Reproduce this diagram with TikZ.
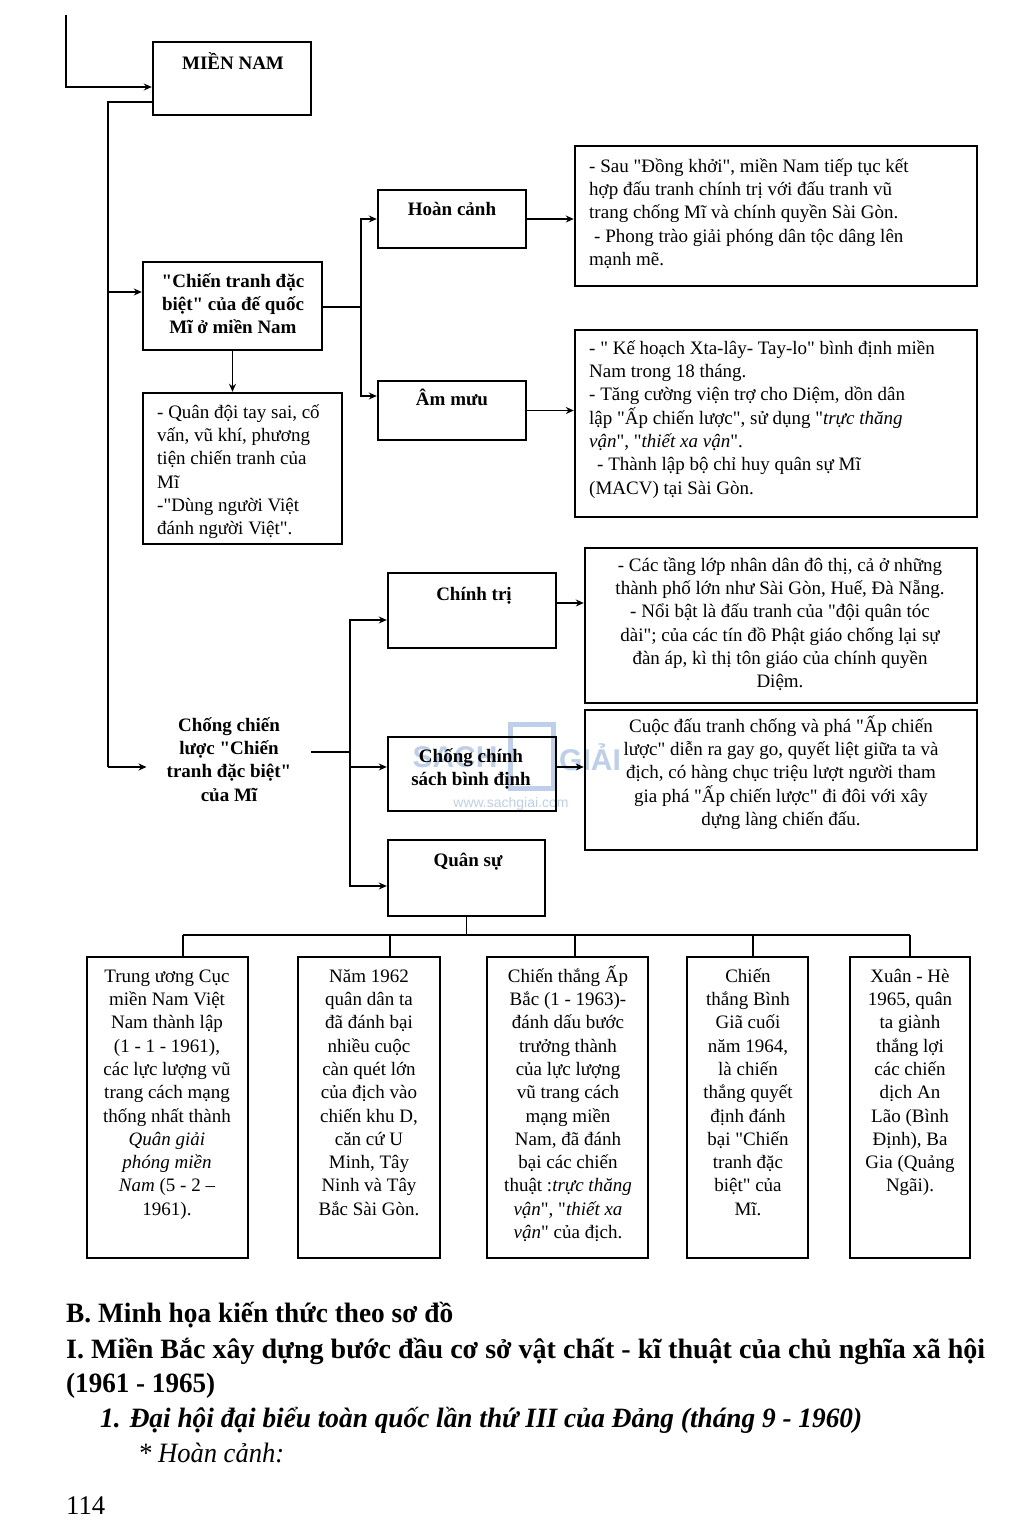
\documentclass[tikz,border=0pt]{standalone}
\usepackage{fontspec}
\usepackage{graphicx}
\setmainfont{Liberation Serif}
\newfontfamily\vf{Liberation Serif}
\newfontfamily\wmfont{Liberation Sans}
\usetikzlibrary{arrows.meta,fit,calc}
\definecolor{wmblue}{RGB}{110,150,210}
\newcommand\bodyf{\vf\fontsize{19}{23.3}\selectfont}
\newcommand\tp{\rule{0pt}{20pt}}
\newcommand\hfit[2]{\resizebox{#1}{\height}{#2}}
\begin{document}
\begin{tikzpicture}[x=1pt,y=-1pt,
 box/.style={draw, line width=2.4pt, inner sep=0pt},
 conn/.style={line width=1.4pt},
 arr/.style={conn, -{Stealth[length=8pt,width=7pt]}},
 txt/.style={inner sep=0pt, font=\bodyf, align=left, anchor=north west},
 ctxt/.style={inner sep=0pt, font=\bodyf, align=center, anchor=north},
 btxt/.style={inner sep=0pt, font=\bodyf\bfseries, align=center, anchor=north},
 foot/.style={inner sep=0pt, anchor=base west},
]
\useasboundingbox (0,0) rectangle (1024,1537);
\fill[white] (0,0) rectangle (1024,1537);

% ---------- watermark (behind) ----------
\begin{scope}[opacity=0.45]
\node[inner sep=0, text=wmblue, font=\wmfont\bfseries\fontsize{30}{30}\selectfont] (wm1) at (455,757) {SACH};
\draw[wmblue, line width=5pt] (510,724) rectangle (553,788);
\node[inner sep=0, text=wmblue, font=\wmfont\bfseries\fontsize{30}{30}\selectfont] (wm2) at (590,757) {GIẢI};
\node[inner sep=0, text=wmblue, font=\wmfont\fontsize{14}{14}\selectfont] (wm3) at (511,804) {www.sachgiai.com};
\end{scope}

% ---------- boxes ----------
\node[box, fit={(153,42) (311,115)}] (mn) {};
\node[box, fit={(143,262) (322,350)}] (ctdb) {};
\node[box, fit={(143,393) (342,544)}] (qd) {};
\node[box, fit={(378,190) (526,248)}] (hc) {};
\node[box, fit={(378,381) (526,440)}] (am) {};
\node[box, fit={(575,146) (977,286)}] (b1) {};
\node[box, fit={(575,330) (977,517)}] (b2) {};
\node[box, fit={(388,573) (556,648)}] (ct) {};
\node[box, fit={(388,737) (556,811)}] (ccs) {};
\node[box, fit={(388,840) (545,916)}] (qs) {};
\node[box, fit={(585,548) (977,703)}] (b3) {};
\node[box, fit={(585,710) (977,850)}] (b4) {};
\node[box, fit={(87,957) (248,1258)}] (bA) {};
\node[box, fit={(298,957) (440,1258)}] (bB) {};
\node[box, fit={(487,957) (648,1258)}] (bC) {};
\node[box, fit={(687,957) (808,1258)}] (bD) {};
\node[box, fit={(850,957) (970,1258)}] (bE) {};

% ---------- texts ----------
\node[btxt] (mnt) at (233,49) {\tp MIỀN NAM};
\node[btxt] (ctdbt) at (233,267) {\tp"Chiến tranh đặc\\biệt" của đế quốc\\Mĩ ở miền Nam};
\node[txt] (qdt) at (157,398) {\tp- Quân đội tay sai, cố\\vấn, vũ khí, phương\\tiện chiến tranh của\\Mĩ\\-"Dùng người Việt\\đánh người Việt".};
\node[btxt] (hct) at (452,195) {\tp Hoàn cảnh};
\node[btxt] (amt) at (452,385) {\tp Âm mưu};
\node[txt] (b1t) at (589,152) {\tp- Sau "Đồng khởi", miền Nam tiếp tục kết\\hợp đấu tranh chính trị với đấu tranh vũ\\trang chống Mĩ và chính quyền Sài Gòn.\\\hspace*{5pt}- Phong trào giải phóng dân tộc dâng lên\\mạnh mẽ.};
\node[txt] (b2t) at (589,334) {\tp- " Kế hoạch Xta-lây- Tay-lo" bình định miền\\Nam trong 18 tháng.\\- Tăng cường viện trợ cho Diệm, dồn dân\\lập "Ấp chiến lược", sử dụng "\textit{trực thăng}\\\textit{vận}", "\textit{thiết xa vận}".\\\hspace*{8pt}- Thành lập bộ chỉ huy quân sự Mĩ\\(MACV) tại Sài Gòn.};
\node[btxt, inner xsep=20pt] (ccl) at (229,711) {\tp Chống chiến\\lược "Chiến\\tranh đặc biệt"\\của Mĩ};
\node[btxt] (ctt) at (474,580) {\tp Chính trị};
\node[btxt] (ccst) at (471,742) {\tp Chống chính\\sách bình định};
\node[btxt] (qst) at (468,846) {\tp Quân sự};
\node[ctxt] (b3t) at (780,551) {\tp- Các tầng lớp nhân dân đô thị, cả ở những\\thành phố lớn như Sài Gòn, Huế, Đà Nẵng.\\- Nổi bật là đấu tranh của "đội quân tóc\\dài"; của các tín đồ Phật giáo chống lại sự\\đàn áp, kì thị tôn giáo của chính quyền\\Diệm.};
\node[ctxt] (b4t) at (781,712) {\tp Cuộc đấu tranh chống và phá "Ấp chiến\\lược" diễn ra gay go, quyết liệt giữa ta và\\địch, có hàng chục triệu lượt người tham\\gia phá "Ấp chiến lược" đi đôi với xây\\dựng làng chiến đấu.};
\node[ctxt] (bAt) at (167,962) {\tp Trung ương Cục\\miền Nam Việt\\Nam thành lập\\(1 - 1 - 1961),\\các lực lượng vũ\\trang cách mạng\\thống nhất thành\\\textit{Quân giải}\\\textit{phóng miền}\\\textit{Nam} (5 - 2 –\\1961).};
\node[ctxt] (bBt) at (369,962) {\tp Năm 1962\\quân dân ta\\đã đánh bại\\nhiều cuộc\\càn quét lớn\\của địch vào\\chiến khu D,\\căn cứ U\\Minh, Tây\\Ninh và Tây\\Bắc Sài Gòn.};
\node[ctxt] (bCt) at (568,962) {\tp Chiến thắng Ấp\\Bắc (1 - 1963)-\\đánh dấu bước\\trưởng thành\\của lực lượng\\vũ trang cách\\mạng miền\\Nam, đã đánh\\bại các chiến\\thuật :\textit{trực thăng}\\\textit{vận}", "\textit{thiết xa}\\\textit{vận}" của địch.};
\node[ctxt] (bDt) at (748,962) {\tp Chiến\\thắng Bình\\Giã cuối\\năm 1964,\\là chiến\\thắng quyết\\định đánh\\bại "Chiến\\tranh đặc\\biệt" của\\Mĩ.};
\node[ctxt] (bEt) at (910,962) {\tp Xuân - Hè\\1965, quân\\ta giành\\thắng lợi\\các chiến\\dịch An\\Lão (Bình\\Định), Ba\\Gia (Quảng\\Ngãi).};

% ---------- connectors ----------
\coordinate (topstart) at (66,15);
\coordinate (spineT) at (108,102);
\coordinate (spineB) at (108,767);
\draw[arr] (topstart) |- ([yshift=-8.5pt]mn.west);
\draw[conn] ([yshift=-23.5pt]mn.west) -| (spineT) -- (spineB);
\draw[arr] (spineT |- 0,292) -- (ctdb.west |- 0,292);
\draw[arr] (spineB) -- (ccl.west |- spineB);
\draw[arr] (ctdb.south) -- (ctdb.south |- qd.north);

\coordinate (sp2) at (361,307);
\draw[conn] (ctdb.east |- sp2) -- (sp2);
\draw[arr] (sp2) |- (hc.west);
\draw[arr] (sp2) |- (am.west |- 0,396);
\draw[arr] (hc.east) -- (hc.east -| b1.west);
\draw[arr] (am.east) -- (am.east -| b2.west);

\coordinate (sp3) at (350,752);
\draw[conn] (ccl.east |- sp3) -- (sp3);
\draw[arr] (sp3) |- (ct.west |- 0,620);
\draw[arr] (sp3) |- (ccs.west |- 0,767);
\draw[arr] (sp3) |- (qs.west |- 0,886);
\draw[arr] (ct.east |- 0,603) -- (b3.west |- 0,603);
\draw[arr] (ccs.east |- 0,767) -- (b4.west |- 0,767);

\coordinate (barL) at (183,935);
\coordinate (dB) at (390,935);
\coordinate (dC) at (575,935);
\coordinate (dD) at (753,935);
\coordinate (barR) at (910,935);
\draw[conn] (qs.south) -- (qs.south |- barL);
\draw[conn] (barL) -- (barR);
\draw[conn] (barL) -- (barL |- bA.north);
\draw[conn] (dB) -- (dB |- bB.north);
\draw[conn] (dC) -- (dC |- bC.north);
\draw[conn] (dD) -- (dD |- bD.north);
\draw[conn] (barR) -- (barR |- bE.north);

% ---------- footer ----------
\node[foot, font=\vf\fontsize{28}{30}\selectfont\bfseries] (f1) at (66,1322) {\hfit{387pt}{B. Minh họa kiến thức theo sơ đồ}};
\node[foot, font=\vf\fontsize{28}{30}\selectfont\bfseries] (f2) at (66,1358) {\hfit{919pt}{I. Miền Bắc xây dựng bước đầu cơ sở vật chất - kĩ thuật của chủ nghĩa xã hội}};
\node[foot, font=\vf\fontsize{28}{30}\selectfont\bfseries] (f3) at (66,1392) {\hfit{149pt}{(1961 - 1965)}};
\node[foot, font=\vf\fontsize{28}{30}\selectfont\bfseries\itshape] (f4) at (100,1427) {\hfit{762pt}{1. Đại hội đại biểu toàn quốc lần thứ III của Đảng (tháng 9 - 1960)}};
\node[foot, font=\vf\fontsize{28}{30}\selectfont\itshape] (f5) at (138,1462) {\hfit{146pt}{* Hoàn cảnh:}};
\node[foot, font=\vf\fontsize{27}{30}\selectfont] (f6) at (66,1514) {\hfit{39pt}{114}};
\end{tikzpicture}
\end{document}
